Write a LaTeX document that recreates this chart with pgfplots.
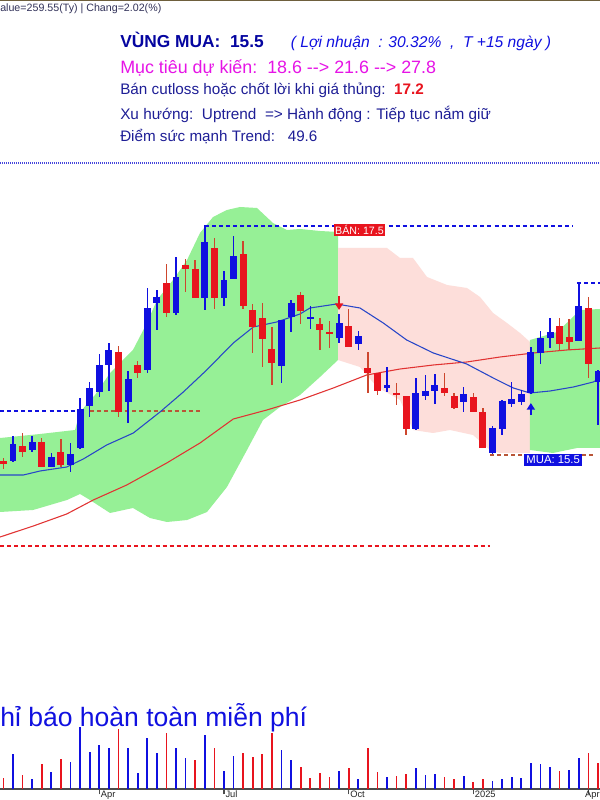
\documentclass[border=0pt]{standalone}
\usepackage{fontspec}
\setmainfont{Liberation Sans}
\usepackage{pgfplots}
\pgfplotsset{compat=1.18}
\usepackage{pgfplotstable}
\usetikzlibrary{arrows.meta}

\definecolor{cblue}{RGB}{16,16,224}
\definecolor{cred}{RGB}{232,20,30}
\definecolor{wickred}{RGB}{205,70,45}
\definecolor{bandgreen}{RGB}{150,240,150}
\definecolor{bandpink}{RGB}{253,222,218}
\definecolor{mablue}{RGB}{40,70,200}
\definecolor{mared}{RGB}{225,50,50}
\definecolor{txtblue}{RGB}{30,30,150}
\definecolor{navy}{RGB}{5,5,160}
\definecolor{mag}{RGB}{230,20,230}
\definecolor{brownd}{RGB}{185,85,55}

% weekly candles, index 0..62
\pgfplotstableread{
i o h l c
1 15.39 15.64 15.38 15.56
3 15.50 15.64 15.48 15.58
5 15.33 15.47 15.33 15.43
7 15.35 15.57 15.28 15.46
8 15.52 16.02 15.51 15.91
9 15.94 16.18 15.83 16.12
10 16.08 16.46 16.03 16.35
11 16.35 16.57 16.09 16.50
13 15.98 16.29 15.77 16.21
15 16.30 17.12 16.27 16.92
16 16.97 17.10 16.70 17.03
18 16.87 17.43 16.85 17.23
21 17.02 17.75 16.90 17.58
23 17.02 17.29 16.94 17.20
24 17.21 17.64 17.21 17.44
29 16.34 16.80 16.17 16.80
30 16.83 17.00 16.68 16.97
32 16.81 16.94 16.71 16.83
35 16.62 16.86 16.57 16.77
37 16.56 16.69 16.50 16.64
40 16.12 16.33 16.08 16.15
43 15.71 16.22 15.70 16.07
44 16.04 16.25 16.00 16.09
45 16.09 16.26 15.96 16.15
48 15.98 16.13 15.88 16.06
51 15.47 15.74 15.46 15.72
52 15.71 16.00 15.65 15.99
53 15.96 16.18 15.93 16.01
54 15.98 16.10 15.95 16.06
55 16.07 16.53 16.06 16.48
56 16.47 16.69 16.36 16.62
57 16.62 16.82 16.52 16.68
60 16.59 17.17 16.59 16.94
62 16.18 16.30 15.75 16.29
}\upc

\pgfplotstableread{
i o h l c
0 15.39 15.42 15.31 15.36
2 15.54 15.67 15.43 15.48
4 15.58 15.62 15.33 15.33
6 15.48 15.61 15.33 15.35
12 16.48 16.54 15.83 15.88
14 16.35 16.39 16.22 16.27
17 17.17 17.36 16.83 16.87
19 17.35 17.41 17.08 17.31
20 17.31 17.40 17.02 17.02
22 17.52 17.62 16.91 17.02
25 17.46 17.59 16.91 16.94
26 16.90 16.96 16.47 16.73
27 16.82 16.97 16.33 16.61
28 16.51 16.73 16.15 16.37
31 17.05 17.08 16.76 16.89
33 16.76 16.82 16.50 16.70
34 16.68 16.79 16.52 16.665
36 16.74 16.91 16.53 16.53
38 16.32 16.48 16.07 16.27
39 16.27 16.27 16.05 16.09
41 16.07 16.17 15.95 16.055
42 16.04 16.04 15.65 15.71
46 16.12 16.27 16.04 16.07
47 16.04 16.07 15.91 15.92
49 16.03 16.07 15.88 15.88
50 15.88 15.92 15.52 15.52
58 16.74 16.82 16.50 16.56
59 16.63 16.81 16.50 16.58
61 16.92 17.03 16.22 16.36
}\downc

\begin{document}
\begin{tikzpicture}
\useasboundingbox (0,0) rectangle (450pt,600pt);
\fill[white] (0,0) rectangle (450pt,600pt);
\draw[color={rgb,255:red,110;green,95;blue,60}, line width=1pt] (0,599.6pt) -- (450pt,599.6pt);

% header texts
\node[anchor=base west, inner sep=0pt, font=\fontsize{8}{9}\selectfont, text={rgb,255:red,50;green,50;blue,90}] at (0pt,591pt) {alue=259.55(Ty) | Chang=2.02(\%)};
\node[anchor=base west, inner sep=0pt, font=\fontsize{13}{15}\selectfont\bfseries, text=navy] at (90pt,564.4pt) {VÙNG MUA:~~15.5};
\node[anchor=base west, inner sep=0pt, font=\fontsize{11.7}{14}\selectfont\itshape, text=cblue] at (218pt,564.4pt) {( Lợi nhuận~~: 30.32\%~~,~~T +15 ngày )};
\node[anchor=base west, inner sep=0pt, font=\fontsize{13.4}{15}\selectfont, text=mag] at (90pt,545.2pt) {Mục tiêu dự kiến:~~18.6 -{}-> 21.6 -{}-> 27.8};
\node[anchor=base west, inner sep=0pt, font=\fontsize{11.45}{14}\selectfont, text=txtblue] at (90pt,529.1pt) {Bán cutloss hoặc chốt lời khi giá thủng:~~\textcolor{cred}{\bfseries 17.2}};
\node[anchor=base west, inner sep=0pt, font=\fontsize{11.5}{14}\selectfont, text=txtblue] at (90pt,510.4pt) {Xu hướng:~~Uptrend~~=> Hành động : Tiếp tục nắm giữ};
\node[anchor=base west, inner sep=0pt, font=\fontsize{11.4}{14}\selectfont, text=txtblue] at (90pt,494.2pt) {Điểm sức mạnh Trend:~~~49.6};
\draw[color={rgb,255:red,70;green,70;blue,220}, line width=0.8pt, dash pattern=on 0.8pt off 0.7pt] (0,477.75pt) -- (450pt,477.75pt);

% price panel
\begin{axis}[at={(0pt,135pt)}, anchor=south west, width=450pt, height=341.25pt, scale only axis,
  xmin=-0.355, xmax=62.21, ymin=13.80, ymax=18.35, hide axis, clip=false]
% envelope, green part
\addplot[fill=bandgreen, draw=none] coordinates {
 (-0.35,15.62) (3.82,15.66) (7.47,15.70) (7.99,15.88) (9.55,16.05) (11.12,16.27) (13.51,16.50)
 (14.97,16.77) (16.02,17.00) (17.69,17.20) (19.15,17.40) (20.50,17.67) (21.86,17.83) (23.31,17.90)
 (24.67,17.93) (26.44,17.92) (28.11,17.77) (29.57,17.70) (30.93,17.71) (33.01,17.69) (34.89,17.68)
 (34.89,16.40) (33.01,16.23) (30.93,16.05) (28.84,15.93) (27.07,15.80) (25.40,15.50) (23.31,15.13)
 (21.23,14.88) (19.15,14.80) (17.06,14.78) (15.29,14.82) (13.51,14.92) (11.12,14.87) (9.03,15.00)
 (7.99,15.06) (6.63,15.00) (3.09,14.90) (-0.35,14.88)} -- cycle;
% envelope, pink part
\addplot[fill=bandpink, draw=none] coordinates {
 (34.89,17.52) (40.00,17.52) (41.36,17.42) (42.71,17.42) (44.17,17.23) (46.26,17.15) (48.34,17.12)
 (49.70,17.03) (51.06,16.87) (52.51,16.77) (53.87,16.67) (54.91,16.58)
 (54.91,15.47) (51.78,15.47) (50.74,15.50) (48.97,15.65) (46.57,15.70) (44.80,15.67) (42.71,15.70)
 (41.36,16.00) (38.95,16.13) (37.18,16.33) (34.89,16.40)} -- cycle;
% envelope, green again
\addplot[fill=bandgreen, draw=none] coordinates {
 (54.91,16.60) (57.73,16.68) (59.08,16.80) (60.12,16.90) (62.21,16.91)
 (62.21,15.52) (59.81,15.52) (57.31,15.47) (54.91,15.50)} -- cycle;

% dashed levels
\addplot[cblue, line width=0.8pt, dash pattern=on 3pt off 2.3pt] coordinates {(-0.35,15.89) (7.47,15.89)};
\addplot[brownd, line width=0.8pt, dash pattern=on 3pt off 2.3pt] coordinates {(9.03,15.89) (20.5,15.89)};
\addplot[cblue, line width=0.8pt, dash pattern=on 3pt off 2.3pt] coordinates {(21,17.74) (59.4,17.74)};
\addplot[cred, line width=0.8pt, dash pattern=on 3pt off 2.3pt] coordinates {(-0.35,14.54) (50.74,14.54)};
\addplot[brownd, line width=0.8pt, dash pattern=on 3pt off 2.3pt] coordinates {(50.74,15.45) (61.5,15.45)};
\addplot[cblue, line width=0.8pt, dash pattern=on 3pt off 2.3pt] coordinates {(59.8,17.17) (62.21,17.17)};

% moving averages
\addplot[mared, line width=0.8pt] coordinates {
 (-0.35,14.63) (3.12,14.74) (6.60,14.86) (9.37,15.00) (12.86,15.15) (17.03,15.37) (20.50,15.57)
 (23.97,15.81) (27.46,15.90) (30.93,16.00) (34.40,16.12) (37.88,16.25) (41.36,16.31) (44.83,16.35)
 (48.31,16.38) (51.79,16.43) (55.26,16.47) (58.74,16.50) (62.21,16.52)};
\addplot[mablue, line width=0.8pt] coordinates {
 (-0.35,15.25) (2.08,15.25) (3.82,15.29) (6.60,15.33) (8.33,15.41) (10.77,15.55) (13.55,15.67)
 (16.33,15.88) (18.76,16.08) (21.20,16.30) (23.97,16.57) (26.06,16.73) (28.50,16.78) (30.93,16.86)
 (31.97,16.92) (34.75,16.96) (37.18,16.92) (39.61,16.77) (42.05,16.60) (44.83,16.47) (48.31,16.36)
 (51.08,16.22) (53.17,16.12) (54.91,16.07) (57.00,16.09) (59.43,16.13) (61.51,16.18) (62.21,16.22)};

% candles: wicks then bodies
\addplot[draw=none, mark=none, error bars/.cd, y dir=both, y explicit, error mark=none,
  error bar style={draw=cblue, line width=1.1pt}]
  table[x=i, y expr={(\thisrow{h}+\thisrow{l})/2}, y error expr={(\thisrow{h}-\thisrow{l})/2}] {\upc};
\addplot[draw=none, mark=none, error bars/.cd, y dir=both, y explicit, error mark=none,
  error bar style={draw=wickred, line width=1.1pt}]
  table[x=i, y expr={(\thisrow{h}+\thisrow{l})/2}, y error expr={(\thisrow{h}-\thisrow{l})/2}] {\downc};
\addplot[draw=none, mark=none, error bars/.cd, y dir=both, y explicit, error mark=none,
  error bar style={draw=cblue, line width=5.2pt}]
  table[x=i, y expr={(\thisrow{o}+\thisrow{c})/2}, y error expr={max(abs(\thisrow{o}-\thisrow{c})/2,0.008)}] {\upc};
\addplot[draw=none, mark=none, error bars/.cd, y dir=both, y explicit, error mark=none,
  error bar style={draw=cred, line width=5.2pt}]
  table[x=i, y expr={(\thisrow{o}+\thisrow{c})/2}, y error expr={max(abs(\thisrow{o}-\thisrow{c})/2,0.008)}] {\downc};

% signal arrows
\addplot[cred, line width=1.8pt, -{Triangle[length=5pt,width=6pt]}] coordinates {(35,17.04) (35,16.90)};
\addplot[cblue, line width=1.8pt, -{Triangle[length=5pt,width=6pt]}] coordinates {(55,15.85) (55,15.97)};

\node[fill=cred, text=white, inner sep=1.2pt, anchor=west, font=\fontsize{8}{9}\selectfont] at (axis cs:34.4,17.70) {BÁN: 17.5};
\node[fill=cblue, text=white, inner sep=1.5pt, anchor=west, font=\fontsize{8.5}{9}\selectfont] at (axis cs:54.3,15.40) {MUA: 15.5};
\end{axis}

\node[anchor=base west, inner sep=0pt, font=\fontsize{19.9}{22}\selectfont, text=cblue] at (0pt,54.75pt) {hỉ báo hoàn toàn miễn phí};

% volume panel
\begin{axis}[at={(0pt,8.25pt)}, anchor=south west, width=450pt, height=75pt, scale only axis,
  xmin=-0.355, xmax=62.21, ymin=0, ymax=100,
  axis x line=bottom, axis y line=none, axis line style={-, draw=black!70, line width=1.2pt},
  xtick={10,23,36,49,61}, xticklabels={},
  tick align=outside, major tick length=4pt, tick style={black!70, line width=0.8pt},
  clip=false]
\addplot[ycomb, cblue, line width=1.3pt, mark=none] coordinates {
 (1,34.7) (3,10.3) (5,17) (7,27.3) (8,62) (9,37.3) (10,44) (11,41.3) (13,41.3) (14,16.3)
 (15,51) (16,35.7) (18,40.7) (19,30.7) (21,54) (23,18.3) (24,33) (29,39) (30,29) (35,17.7)
 (37,9.7) (40,12.3) (43,20.7) (44,14) (45,15) (48,13) (51,7.7) (52,9.7) (53,12.3) (54,10.7)
 (55,26.3) (56,24.7) (57,22.3) (59,18.7) (60,30.7)};
\addplot[ycomb, cred, line width=1.3pt, mark=none] coordinates {
 (0,11.3) (2,14) (4,24.7) (6,30) (12,60) (17,56) (20,29) (22,40.7) (25,35.7) (26,31.7)
 (27,34.7) (28,56) (31,22.3) (32,11.3) (33,16) (34,12.3) (36,20.7) (38,41.3) (39,17) (41,13)
 (42,15) (46,12.3) (47,9.7) (49,6.7) (50,9.7) (58,18) (61,36.3) (62,26.3)};
\begin{scope}[every node/.style={inner sep=0pt, yshift=-1.2pt, font=\fontsize{7}{8}\selectfont, text=black!85}]
\node[anchor=north west, xshift=1pt] at (axis cs:10,0) {Apr};
\node[anchor=north west, xshift=1pt] at (axis cs:23,0) {Jul};
\node[anchor=north west, xshift=1pt] at (axis cs:36,0) {Oct};
\node[anchor=north west, xshift=1pt] at (axis cs:49,0) {2025};
\node[anchor=north east] at (axis cs:62.21,0) {Apr};
\end{scope}
\end{axis}
\end{tikzpicture}
\end{document}
